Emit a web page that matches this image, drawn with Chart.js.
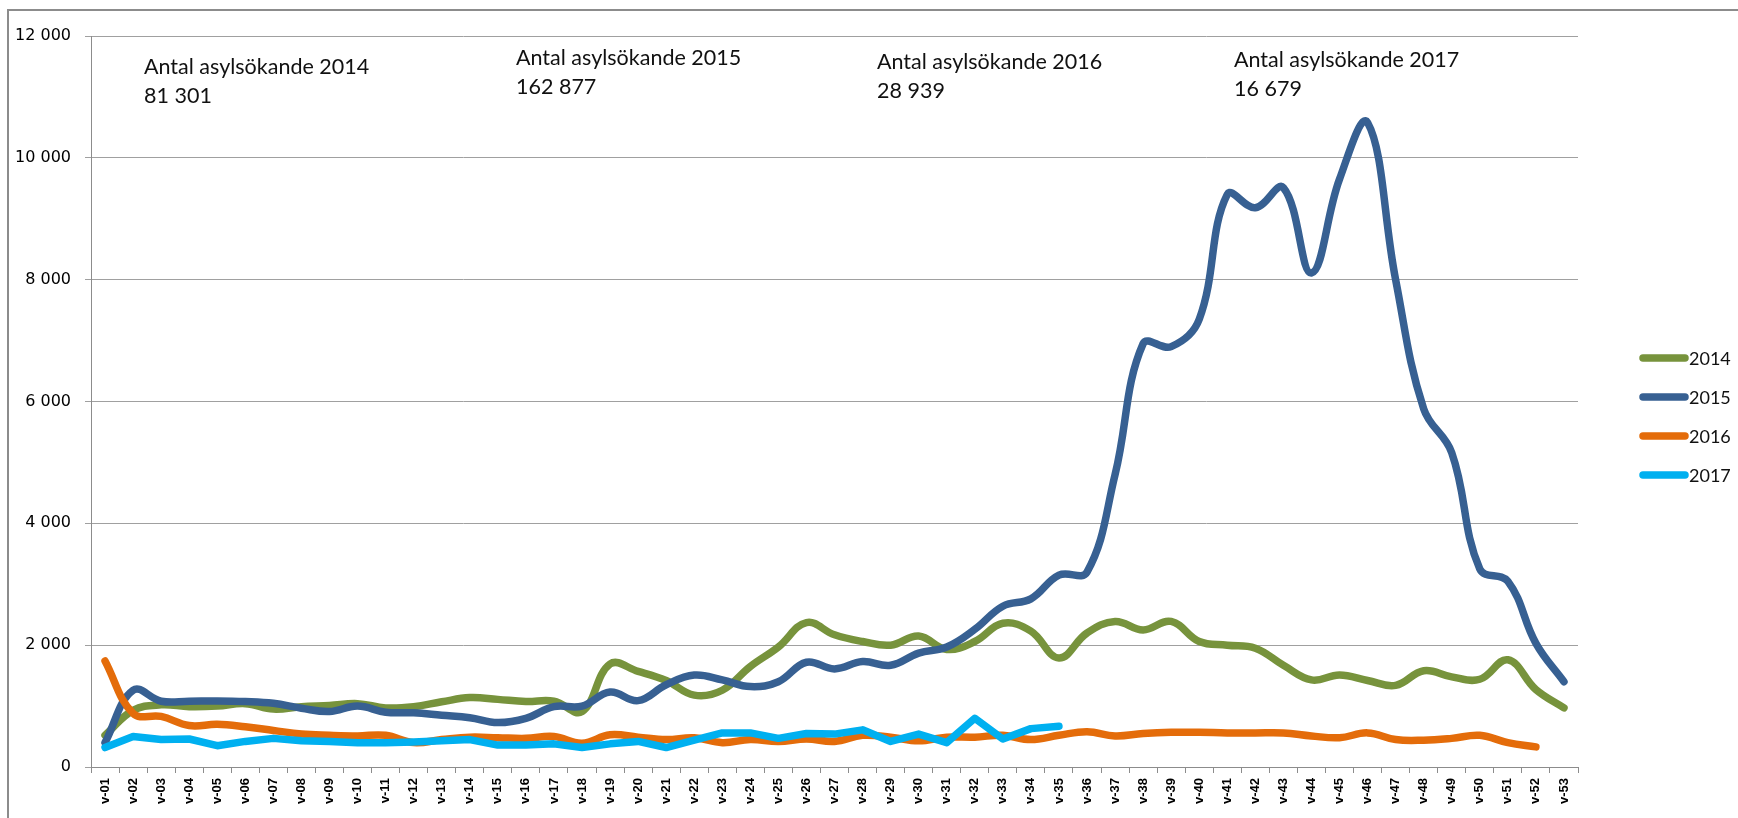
<!DOCTYPE html>
<html lang="sv">
<head>
<meta charset="utf-8">
<title>Antal asylsökande per vecka 2014–2017</title>
<script src="https://cdn.jsdelivr.net/npm/chart.js@4.4.0/dist/chart.umd.min.js"></script>
<style>
    html, body { margin: 0; padding: 0; background: #fff; }
    #wrap { position: relative; width: 1738px; height: 818px; }
</style>
</head>
<body>
<div id="wrap"><canvas id="mainChart"></canvas></div>
<script>
// ==================== data ====================

const weeks = [
    'v-01', 'v-02', 'v-03', 'v-04', 'v-05', 'v-06', 'v-07', 'v-08', 'v-09', 'v-10',
    'v-11', 'v-12', 'v-13', 'v-14', 'v-15', 'v-16', 'v-17', 'v-18', 'v-19', 'v-20',
    'v-21', 'v-22', 'v-23', 'v-24', 'v-25', 'v-26', 'v-27', 'v-28', 'v-29', 'v-30',
    'v-31', 'v-32', 'v-33', 'v-34', 'v-35', 'v-36', 'v-37', 'v-38', 'v-39', 'v-40',
    'v-41', 'v-42', 'v-43', 'v-44', 'v-45', 'v-46', 'v-47', 'v-48', 'v-49', 'v-50',
    'v-51', 'v-52', 'v-53'
];

const seriesNames = ['2014', '2015', '2016', '2017'];

const values2014 = [
    520, 930, 1020, 990, 1000, 1040, 950, 990, 1010, 1040,
    970, 990, 1070, 1140, 1110, 1075, 1080, 910, 1690, 1570,
    1420, 1180, 1260, 1650, 1970, 2370, 2170, 2060, 2000, 2150,
    1930, 2060, 2360, 2230, 1790, 2200, 2390, 2250, 2390, 2060,
    2000, 1950, 1670, 1430, 1510, 1420, 1340, 1580, 1480, 1440,
    1760, 1270, 970
];

const values2015 = [
    400, 1260, 1080, 1080, 1085, 1075, 1045, 965, 910, 1000,
    900, 890, 850, 810, 730, 800, 990, 1000, 1230, 1090,
    1350, 1510, 1430, 1320, 1400, 1720, 1610, 1730, 1670, 1870,
    1970, 2260, 2640, 2760, 3150, 3200, 4800, 6950, 6900, 7350,
    9400, 9180, 9510, 8110, 9650, 10580, 8000, 5880, 5160, 3250,
    3050, 2030, 1400
];

const values2016 = [
    1740, 880, 830, 680, 700, 660, 600, 540, 520, 510,
    520, 400, 450, 490, 480, 470, 500, 390, 530, 490,
    450, 480, 400, 450, 420, 460, 420, 520, 490, 430,
    490, 490, 520, 450, 520, 580, 510, 550, 570, 570,
    560, 560, 560, 510, 480, 560, 450, 440, 470, 520,
    400, 330, null
];

const values2017 = [
    320, 500, 450, 460, 350, 420, 470, 430, 420, 400,
    400, 410, 430, 450, 360, 360, 380, 320, 380, 420,
    320, 440, 560, 560, 470, 550, 540, 610, 420, 540,
    400, 800, 460, 630, 670, null, null, null, null, null,
    null, null, null, null, null, null, null, null, null, null,
    null, null, null
];

const seriesColors = ['#77933c', '#376092', '#e46c0a', '#00b0f0'];

const notes = [
    { title: 'Antal asylsökande 2014', total: '81 301', x: 144, y: 67 },
    { title: 'Antal asylsökande 2015', total: '162 877', x: 516, y: 58 },
    { title: 'Antal asylsökande 2016', total: '28 939', x: 877, y: 62 },
    { title: 'Antal asylsökande 2017', total: '16 679', x: 1234, y: 60 }
];

// ==================== plugins ====================

const framePlugin = {
    id: 'frame',
    beforeDraw(chart) {
        const ctx = chart.ctx;
        ctx.save();
        ctx.fillStyle = '#ffffff';
        ctx.fillRect(0, 0, chart.width, chart.height);
        ctx.strokeStyle = '#8c8c8c';
        ctx.lineWidth = 2;
        ctx.strokeRect(8, 10, chart.width + 20, chart.height + 20);
        ctx.restore();
    }
};

const notesPlugin = {
    id: 'notes',
    afterDraw(chart) {
        const ctx = chart.ctx;
        ctx.save();
        ctx.fillStyle = '#111';
        ctx.font = '21.5px Lato';
        ctx.textAlign = 'left';
        ctx.textBaseline = 'middle';
        notes.forEach(n => {
            ctx.fillText(n.title, n.x, n.y);
            ctx.fillText(n.total, n.x, n.y + 29);
        });
        ctx.restore();
    }
};

const legendPlugin = {
    id: 'sideLegend',
    afterDraw(chart) {
        const ctx = chart.ctx;
        const x0 = chart.chartArea.right + 65;
        ctx.save();
        ctx.font = '18px Lato';
        ctx.textAlign = 'left';
        ctx.textBaseline = 'middle';
        chart.data.datasets.forEach((ds, i) => {
            const y = 358 + i * 39;
            ctx.strokeStyle = ds.borderColor;
            ctx.lineWidth = 7.5;
            ctx.lineCap = 'round';
            ctx.beginPath();
            ctx.moveTo(x0, y);
            ctx.lineTo(x0 + 42, y);
            ctx.stroke();
            ctx.fillStyle = '#111';
            ctx.fillText(ds.label, x0 + 46, y + 1);
        });
        ctx.restore();
    }
};

// ==================== chart ====================

function makeSeries(label, data, color, order, tension) {
    return {
        label,
        data,
        borderColor: color,
        backgroundColor: color,
        borderWidth: 7.5,
        borderCapStyle: 'round',
        borderJoinStyle: 'round',
        pointRadius: 0,
        pointHoverRadius: 0,
        fill: false,
        tension,
        spanGaps: false,
        order
    };
}

const ctx = document.getElementById('mainChart').getContext('2d');

const mainChart = new Chart(ctx, {
    type: 'line',
    data: {
        labels: weeks,
        datasets: [
            makeSeries(seriesNames[0], values2014, seriesColors[0], 4, 0.4),
            makeSeries(seriesNames[1], values2015, seriesColors[1], 3, 0.4),
            makeSeries(seriesNames[2], values2016, seriesColors[2], 2, 0.4),
            makeSeries(seriesNames[3], values2017, seriesColors[3], 1, 0)
        ]
    },
    options: {
        responsive: true,
        maintainAspectRatio: false,
        animation: false,
        layout: {
            padding: { top: 36, right: 160, bottom: 0, left: 0 }
        },
        plugins: {
            legend: { display: false },
            tooltip: { enabled: false }
        },
        scales: {
            x: {
                offset: true,
                afterFit(scale) { scale.height = 51; },
                grid: {
                    offset: true,
                    drawOnChartArea: false,
                    drawTicks: true,
                    tickLength: 6,
                    color: '#8c8c8c'
                },
                border: { display: true, color: '#8c8c8c', width: 1 },
                ticks: {
                    autoSkip: false,
                    minRotation: 90,
                    maxRotation: 90,
                    padding: 5,
                    color: '#000',
                    font: { family: 'Liberation Sans', size: 13, weight: 'bold' }
                }
            },
            y: {
                min: 0,
                max: 12000,
                afterFit(scale) { scale.width = 91; },
                grid: {
                    drawTicks: true,
                    tickLength: 6,
                    color: '#a0a0a0',
                    lineWidth: 1
                },
                border: { display: true, color: '#8c8c8c', width: 1 },
                ticks: {
                    stepSize: 2000,
                    padding: 14,
                    color: '#000',
                    font: { family: 'DejaVu Sans', size: 16 },
                    callback: v => String(v).replace(/\B(?=(\d{3})+(?!\d))/g, ' ')
                }
            }
        }
    },
    plugins: [framePlugin, notesPlugin, legendPlugin]
});
</script>
</body>
</html>
